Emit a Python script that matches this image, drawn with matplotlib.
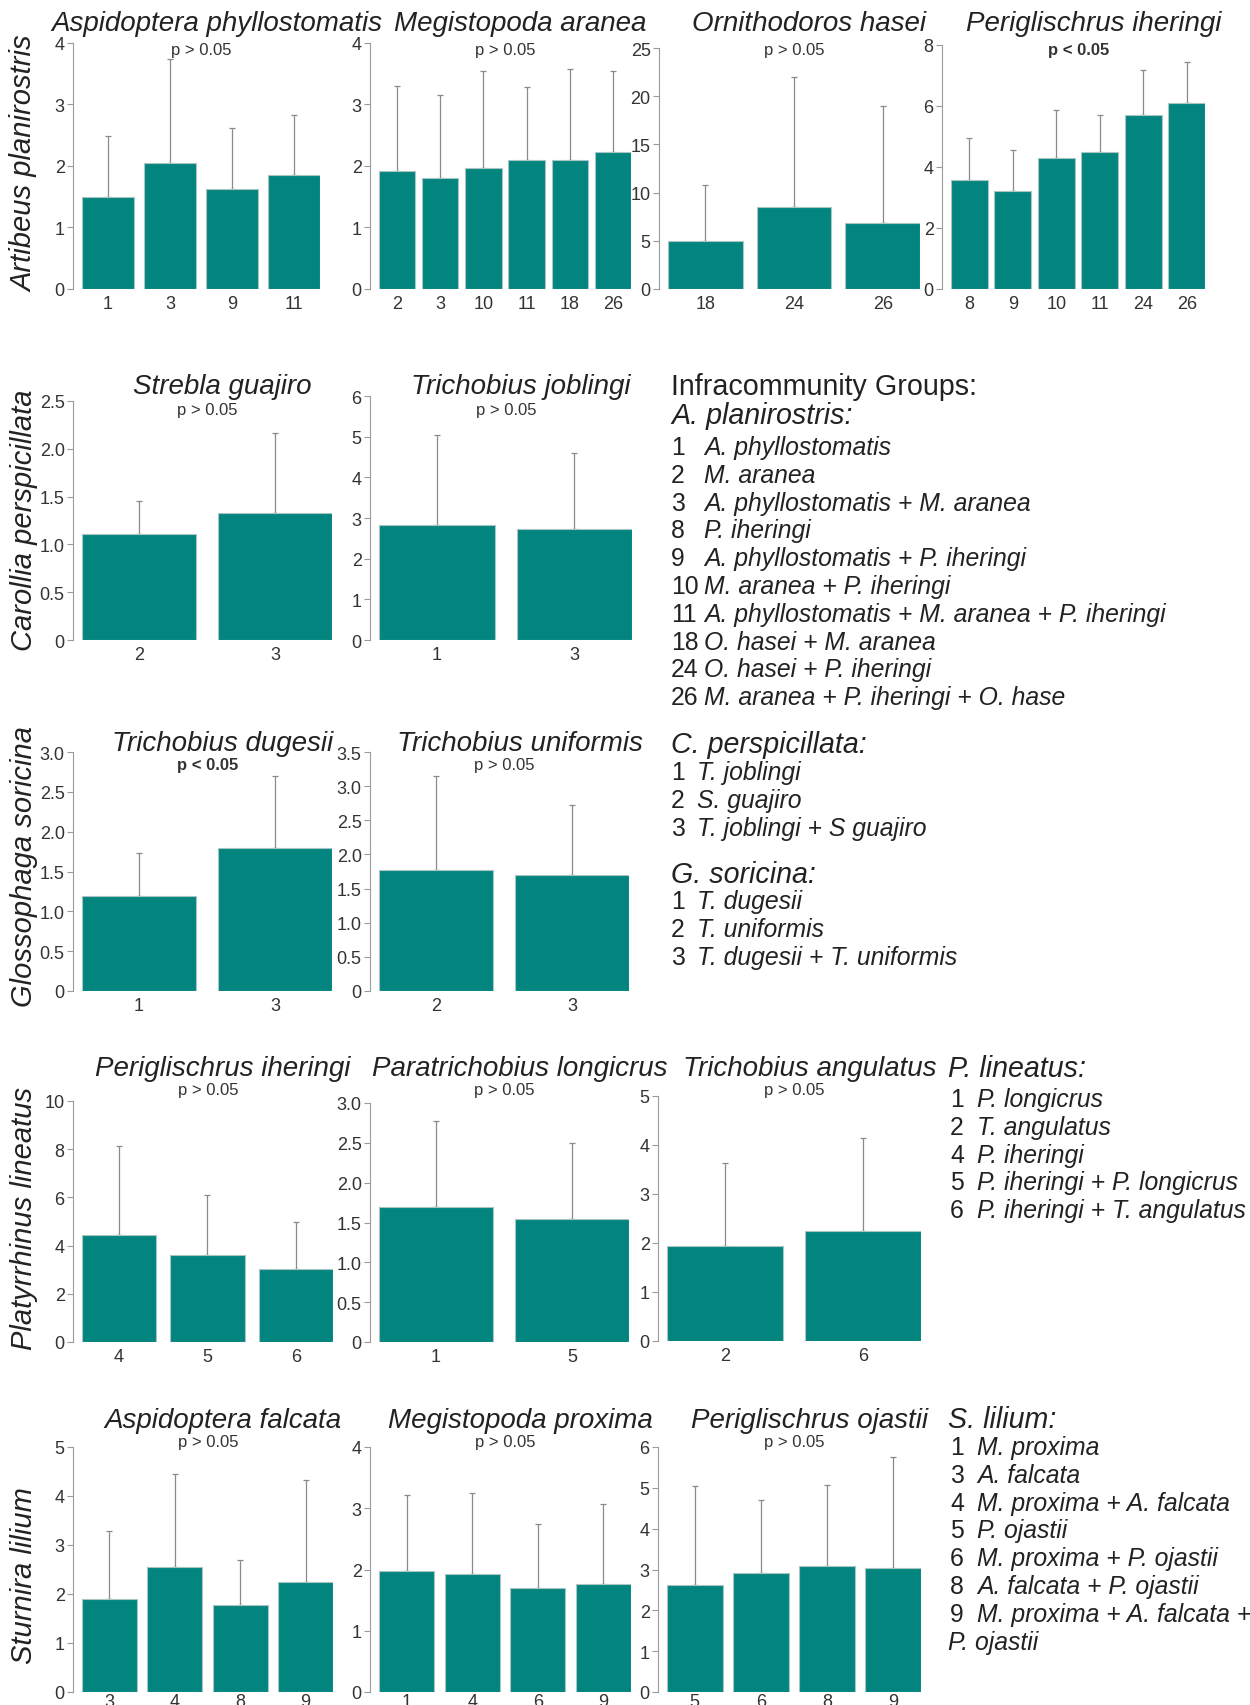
import numpy as np
import matplotlib.pyplot as plt

plt.rcParams['font.family'] = ['Liberation Sans', 'DejaVu Sans']
NARROW = ['Liberation Sans Narrow', 'Liberation Sans', 'DejaVu Sans']

W, H = 1250, 1706
TEAL = '#02857f'
EDGE = '#a9c4c2'
BW = 0.84      # bar width as a share of the slot
GAP = 9        # px between y spine and first bar

# ---- Artibeus planirostris ----
ap_aphy_groups = [1, 3, 9, 11]
ap_aphy_mean = [1.49, 2.05, 1.62, 1.85]
ap_aphy_sd = [1.00, 1.68, 0.99, 0.98]

ap_mara_groups = [2, 3, 10, 11, 18, 26]
ap_mara_mean = [1.91, 1.80, 1.97, 2.10, 2.09, 2.22]
ap_mara_sd = [1.38, 1.35, 1.56, 1.17, 1.48, 1.31]

ap_ohas_groups = [18, 24, 26]
ap_ohas_mean = [4.93, 8.50, 6.88]
ap_ohas_sd = [5.90, 13.48, 12.15]

ap_pihe_groups = [8, 9, 10, 11, 24, 26]
ap_pihe_mean = [3.56, 3.20, 4.28, 4.48, 5.68, 6.10]
ap_pihe_sd = [1.39, 1.35, 1.58, 1.20, 1.49, 1.33]

# ---- Carollia perspicillata ----
cp_sgua_groups = [2, 3]
cp_sgua_mean = [1.11, 1.33]
cp_sgua_sd = [0.34, 0.84]

cp_tjob_groups = [1, 3]
cp_tjob_mean = [2.82, 2.73]
cp_tjob_sd = [2.21, 1.86]

# ---- Glossophaga soricina ----
gs_tdug_groups = [1, 3]
gs_tdug_mean = [1.19, 1.80]
gs_tdug_sd = [0.54, 0.90]

gs_tuni_groups = [2, 3]
gs_tuni_mean = [1.77, 1.70]
gs_tuni_sd = [1.38, 1.02]

# ---- Platyrrhinus lineatus ----
pl_pihe_groups = [4, 5, 6]
pl_pihe_mean = [4.45, 3.62, 3.04]
pl_pihe_sd = [3.68, 2.46, 1.96]

pl_plon_groups = [1, 5]
pl_plon_mean = [1.69, 1.54]
pl_plon_sd = [1.08, 0.96]

pl_tang_groups = [2, 6]
pl_tang_mean = [1.93, 2.24]
pl_tang_sd = [1.70, 1.91]

# ---- Sturnira lilium ----
sl_afal_groups = [3, 4, 8, 9]
sl_afal_mean = [1.89, 2.55, 1.78, 2.24]
sl_afal_sd = [1.40, 1.89, 0.91, 2.09]

sl_mpro_groups = [1, 4, 6, 9]
sl_mpro_mean = [1.98, 1.92, 1.70, 1.76]
sl_mpro_sd = [1.23, 1.33, 1.05, 1.31]

sl_poja_groups = [5, 6, 8, 9]
sl_poja_mean = [2.61, 2.91, 3.09, 3.03]
sl_poja_sd = [2.43, 1.79, 1.98, 2.72]

hosts = ['Artibeus planirostris', 'Carollia perspicillata', 'Glossophaga soricina',
         'Platyrrhinus lineatus', 'Sturnira lilium']

legend_ap = [('1', 'A. phyllostomatis'), ('2', 'M. aranea'),
             ('3', 'A. phyllostomatis + M. aranea'), ('8', 'P. iheringi'),
             ('9', 'A. phyllostomatis + P. iheringi'), ('10', 'M. aranea + P. iheringi'),
             ('11', 'A. phyllostomatis + M. aranea + P. iheringi'),
             ('18', 'O. hasei + M. aranea'), ('24', 'O. hasei + P. iheringi'),
             ('26', 'M. aranea + P. iheringi + O. hase')]
legend_cp = [('1', 'T. joblingi'), ('2', 'S. guajiro'), ('3', 'T. joblingi + S guajiro')]
legend_gs = [('1', 'T. dugesii'), ('2', 'T. uniformis'), ('3', 'T. dugesii + T. uniformis')]
legend_pl = [('1', 'P. longicrus'), ('2', 'T. angulatus'), ('4', 'P. iheringi'),
             ('5', 'P. iheringi + P. longicrus'), ('6', 'P. iheringi + T. angulatus')]
legend_sl = [('1', 'M. proxima'), ('3', 'A. falcata'), ('4', 'M. proxima + A. falcata'),
             ('5', 'P. ojastii'), ('6', 'M. proxima + P. ojastii'),
             ('8', 'A. falcata + P. ojastii'), ('9', 'M. proxima + A. falcata +'),
             ('', 'P. ojastii')]

fig = plt.figure(figsize=(W / 100, H / 100), dpi=100)
fig.patch.set_facecolor('white')


def fx(px):
    return px / W


def fy(py):
    return 1 - py / H


def panel(left, right, top, zero, groups, mean, sd, ymax, ystep, title,
          title_y, ptext, p_y, bold=False, xpad=4):
    ax = fig.add_axes([fx(left), fy(zero), (right - left) / W, (zero - top) / H])
    n = len(groups)
    x = np.arange(n)
    pitch = (right - left - GAP) / (n - 1 + BW)
    ax.errorbar(x, mean, yerr=[np.zeros(n), sd], fmt='none', ecolor='#8a8a8a',
                elinewidth=0.9, capsize=2, capthick=0.9, zorder=2, clip_on=False)
    ax.bar(x, mean, width=BW, color=TEAL, edgecolor=EDGE, linewidth=0.8, zorder=3)
    ax.set_xlim(-BW / 2 - GAP / pitch, n - 1 + BW / 2)
    ax.set_ylim(0, ymax)

    ticks = np.arange(0, ymax + ystep / 2, ystep)
    if ystep < 1:
        labels = ['0'] + ['%.1f' % t for t in ticks[1:]]
    else:
        labels = ['%d' % t for t in ticks]
    ax.set_yticks(ticks, labels)
    ax.set_xticks(x, [str(g) for g in groups])
    for lab in ax.get_xticklabels() + ax.get_yticklabels():
        lab.set_family(NARROW)
    ax.tick_params(axis='y', length=4, width=0.8, color='#9a9a9a', pad=2,
                   labelsize=13, labelcolor='#333333')
    ax.tick_params(axis='x', length=0, pad=xpad, labelsize=13, labelcolor='#333333')
    for s in ['top', 'right', 'bottom']:
        ax.spines[s].set_visible(False)
    ax.spines['left'].set_color('#9a9a9a')
    ax.spines['left'].set_linewidth(0.8)
    ax.set_facecolor('none')

    cx = (left + right) / 2
    fig.text(fx(cx + 20), fy(title_y), title, ha='center', va='center',
             fontsize=20, style='italic', color='#222222')
    fig.text(fx(cx + 5), fy(p_y), ptext, ha='center', va='center', fontsize=12,
             fontweight='bold' if bold else 'normal', color='#333333')
    return ax


# row 1
panel(73, 320, 43.5, 290, ap_aphy_groups, ap_aphy_mean, ap_aphy_sd, 4, 1,
      'Aspidoptera phyllostomatis', 24, 'p > 0.05', 50)
panel(370, 631, 43.5, 290, ap_mara_groups, ap_mara_mean, ap_mara_sd, 4, 1,
      'Megistopoda aranea', 24, 'p > 0.05', 50)
panel(659, 920, 49, 290, ap_ohas_groups, ap_ohas_mean, ap_ohas_sd, 25, 5,
      'Ornithodoros hasei', 24, 'p > 0.05', 50)
panel(942, 1205, 45.5, 290, ap_pihe_groups, ap_pihe_mean, ap_pihe_sd, 8, 2,
      'Periglischrus iheringi', 24, 'p < 0.05', 50, bold=True)

# row 2
panel(73, 332, 402, 641, cp_sgua_groups, cp_sgua_mean, cp_sgua_sd, 2.5, 0.5,
      'Strebla guajiro', 387, 'p > 0.05', 410)
panel(370, 632, 397, 641, cp_tjob_groups, cp_tjob_mean, cp_tjob_sd, 6, 1,
      'Trichobius joblingi', 387, 'p > 0.05', 410)

# row 3
panel(73, 332, 753, 992, gs_tdug_groups, gs_tdug_mean, gs_tdug_sd, 3.0, 0.5,
      'Trichobius dugesii', 744, 'p < 0.05', 766, bold=True)
panel(370, 629, 753, 992, gs_tuni_groups, gs_tuni_mean, gs_tuni_sd, 3.5, 0.5,
      'Trichobius uniformis', 744, 'p > 0.05', 766)

# row 4
panel(73, 333, 1102, 1343, pl_pihe_groups, pl_pihe_mean, pl_pihe_sd, 10, 2,
      'Periglischrus iheringi', 1069, 'p > 0.05', 1090)
panel(370, 629, 1104, 1343, pl_plon_groups, pl_plon_mean, pl_plon_sd, 3.0, 0.5,
      'Paratrichobius longicrus', 1069, 'p > 0.05', 1090)
panel(658, 921, 1097, 1342, pl_tang_groups, pl_tang_mean, pl_tang_sd, 5, 1,
      'Trichobius angulatus', 1069, 'p > 0.05', 1090)

# row 5 sits right on the bottom edge, so its group numbers hug the bars
panel(73, 333, 1448, 1693, sl_afal_groups, sl_afal_mean, sl_afal_sd, 5, 1,
      'Aspidoptera falcata', 1421, 'p > 0.05', 1443, xpad=1)
panel(370, 631, 1448, 1693, sl_mpro_groups, sl_mpro_mean, sl_mpro_sd, 4, 1,
      'Megistopoda proxima', 1421, 'p > 0.05', 1443, xpad=1)
panel(658, 921, 1448, 1693, sl_poja_groups, sl_poja_mean, sl_poja_sd, 6, 1,
      'Periglischrus ojastii', 1421, 'p > 0.05', 1443, xpad=1)

# host names down the left side
for name, yc in zip(hosts, [164, 520, 867, 1218, 1576]):
    fig.text(fx(24), fy(yc), name, rotation=90, ha='center', va='center',
             fontsize=21, style='italic', color='#222222')

# group keys
STEP = 27.8
KEY_SIZE = 17.8


def key(x_head, x_num, x_sp, y_head, y_first, header, items):
    fig.text(fx(x_head), fy(y_head), header, ha='left', va='center', fontsize=20.6,
             style='italic', color='#222222')
    for i, (num, sp) in enumerate(items):
        y = fy(y_first + i * STEP)
        if num:
            fig.text(fx(x_num), y, num, ha='left', va='center', fontsize=KEY_SIZE,
                     color='#222222')
            fig.text(fx(x_sp), y, sp, ha='left', va='center', fontsize=KEY_SIZE,
                     style='italic', color='#222222')
        else:
            fig.text(fx(x_head), y, sp, ha='left', va='center', fontsize=KEY_SIZE,
                     style='italic', color='#222222')


fig.text(fx(671), fy(387), 'Infracommunity Groups:', ha='left', va='center',
         fontsize=20.6, color='#222222')
key(671, 671, 704, 416, 448, 'A. planirostris:', legend_ap)
key(671, 671, 697, 745, 773.5, 'C. perspicillata:', legend_cp)
key(671, 671, 697, 875, 902, 'G. soricina:', legend_gs)
key(948, 950, 977, 1069, 1100, 'P. lineatus:', legend_pl)
key(948, 950, 977, 1420, 1448, 'S. lilium:', legend_sl)

fig.savefig('out.png', dpi=100, facecolor='white')
